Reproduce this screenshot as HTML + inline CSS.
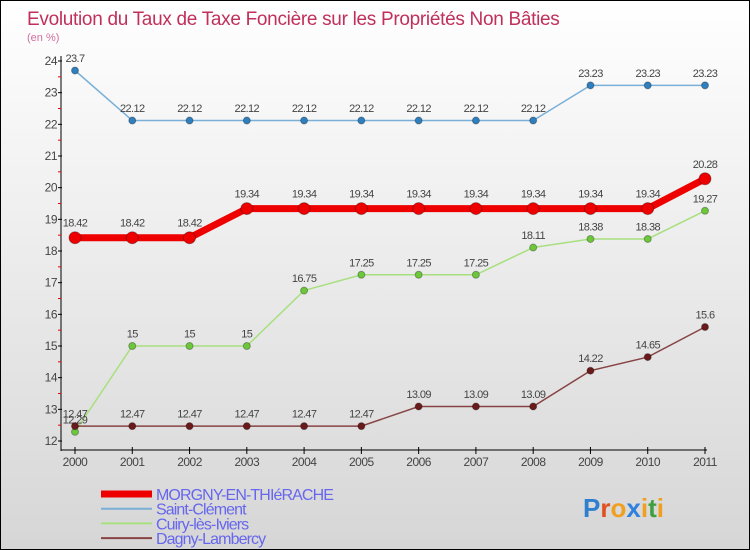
<!DOCTYPE html>
<html><head><meta charset="utf-8"><style>
body{margin:0}
#wrap{width:748px;height:548px;border:1px solid #000;background:linear-gradient(#fff,#d6d6d6);position:relative;font-family:"Liberation Sans",sans-serif;overflow:hidden}
</style></head><body>
<div id="wrap">
<svg id="chart" width="748" height="548" style="position:absolute;left:0;top:0"></svg>
</div>
<script>
const years=["2000","2001","2002","2003","2004","2005","2006","2007","2008","2009","2010","2011"];
const yTicks=[12,13,14,15,16,17,18,19,20,21,22,23,24];
const morgny=[18.42,18.42,18.42,19.34,19.34,19.34,19.34,19.34,19.34,19.34,19.34,20.28];
const saintClement=[23.7,22.12,22.12,22.12,22.12,22.12,22.12,22.12,22.12,23.23,23.23,23.23];
const cuiry=[12.29,15,15,15,16.75,17.25,17.25,17.25,18.11,18.38,18.38,19.27];
const dagny=[12.47,12.47,12.47,12.47,12.47,12.47,13.09,13.09,13.09,14.22,14.65,15.6];
const seriesNames=["MORGNY-EN-THIéRACHE","Saint-Clément","Cuiry-lès-Iviers","Dagny-Lambercy"];
const svg=document.getElementById('chart');const NS='http://www.w3.org/2000/svg';
function mk(t,a,p){const e=document.createElementNS(NS,t);for(const k in a)e.setAttribute(k,a[k]);(p||svg).appendChild(e);return e;}
const X=i=>74+i*(630/11);
const Y=v=>440-(v-12)*(380/12);
let t=mk('text',{x:26,y:24,fill:'#c0305a','font-size':19,'letter-spacing':'-0.3'});t.textContent='Evolution du Taux de Taxe Foncière sur les Propriétés Non Bâties';

t=mk('text',{x:26,y:40,fill:'#d070a0','font-size':11});t.textContent='(en %)';

let ax=mk('line',{x1:60,y1:55,x2:60,y2:450,stroke:'#000'});

ax=mk('line',{x1:60,y1:449,x2:706,y2:449,stroke:'#000'});

yTicks.forEach((v,i)=>{mk('line',{x1:57,x2:61,y1:Y(v),y2:Y(v),stroke:'#000'});
if(i<yTicks.length-1)mk('line',{x1:57,x2:60,y1:Y(v+0.5),y2:Y(v+0.5),stroke:'#e00'});
const l=mk('text',{x:56,y:Y(v)+4,'text-anchor':'end','font-size':12,fill:'#444','letter-spacing':'-0.5'});l.textContent=v;
});
years.forEach((y,i)=>{mk('line',{x1:X(i),x2:X(i),y1:446,y2:453,stroke:'#000'});
const l=mk('text',{x:X(i),y:465,'text-anchor':'middle','font-size':12,fill:'#444','letter-spacing':'-0.5'});l.textContent=y;
});
function series(vals,color,w,r,name,dot){
const g=mk('g',{});
mk('polyline',{points:vals.map((v,i)=>X(i)+','+Y(v)).join(' '),fill:'none',stroke:color,'stroke-width':w},g);
vals.forEach((v,i)=>{const c=mk('circle',{cx:X(i),cy:Y(v),r:r,fill:dot,stroke:'rgba(0,0,0,0.3)'},g);

const l=mk('text',{x:X(i),y:Y(v)-(r+5),'text-anchor':'middle','font-size':11,fill:'#444','letter-spacing':'-0.6'},g);l.textContent=v;});}
series(saintClement,'#7ab0d8',1.5,3.5,'series-saint-clement','#2f7fbf');
series(cuiry,'#a8e080',1.5,3.5,'series-cuiry','#6cc83a');
series(dagny,'#884444',1.5,3.5,'series-dagny','#6a1a1a');
series(morgny,'#ee0000',7,6,'series-morgny','#ee0000');
const lc=['#ee0000','#7ab0d8','#a8e080','#884444'],lw=[7,2,2,2];
seriesNames.forEach((n,i)=>{const y=493+i*14.7;
const g=mk('g',{});
mk('line',{x1:100,x2:151,y1:y,y2:y,stroke:lc[i],'stroke-width':lw[i]},g);
const l=mk('text',{x:155,y:y+6,'font-size':16,fill:'#6666ee','letter-spacing':'-0.9'},g);l.textContent=n;});
t=mk('text',{x:582,y:516,'font-size':26,'font-weight':'bold'});

const lcols=['#2f7fd0','#e05020','#f0a020','#3080e0','#f0a020','#40a040','#f0a020'];
'Proxiti'.split('').forEach((ch,i)=>{const s=mk('tspan',{fill:lcols[i]},t);s.textContent=ch;});
</script>
</body></html>
